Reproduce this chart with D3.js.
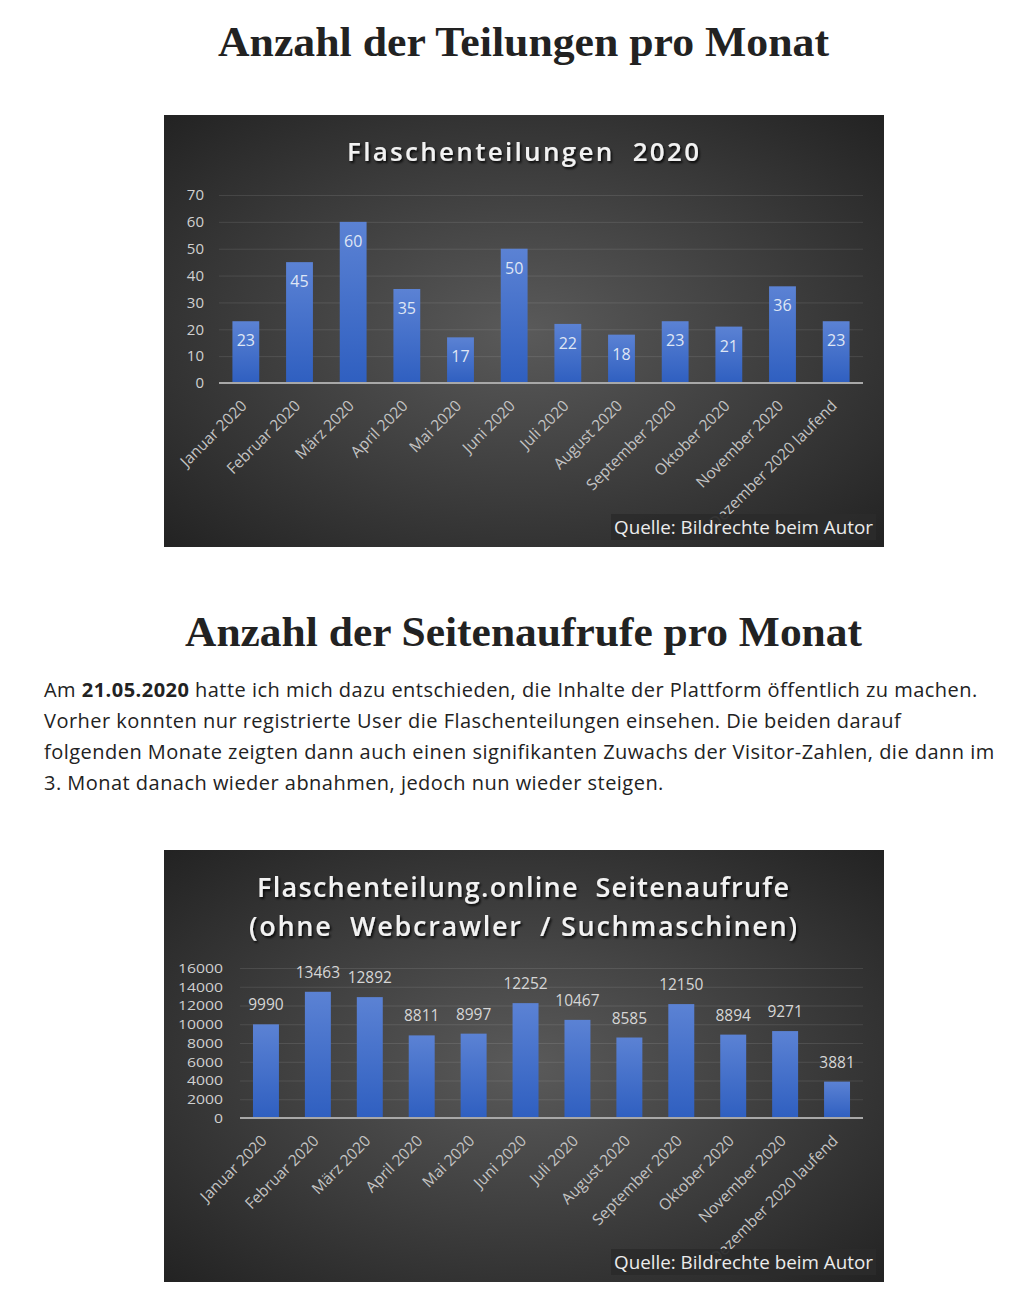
<!DOCTYPE html>
<html><head><meta charset="utf-8">
<script src="https://cdn.jsdelivr.net/npm/d3@7/dist/d3.min.js"></script>
<style>
html,body{margin:0;padding:0;background:#fff;}
svg{display:block;}
</style></head>
<body>
<svg id="page" width="1030" height="1309"></svg>
<script>
// ---- data ----
const months = ["Januar 2020","Februar 2020","März 2020","April 2020","Mai 2020","Juni 2020","Juli 2020","August 2020","September 2020","Oktober 2020","November 2020","Dezember 2020 laufend"];
const shares = [23,45,60,35,17,50,22,18,23,21,36,23];
const views = [9990,13463,12892,8811,8997,12252,10467,8585,12150,8894,9271,3881];
const sharesTicks = [0,10,20,30,40,50,60,70];
const viewsTicks = [0,2000,4000,6000,8000,10000,12000,14000,16000];
const heading1 = "Anzahl der Teilungen pro Monat";
const heading2 = "Anzahl der Seitenaufrufe pro Monat";
const chart1Title = ["Flaschenteilungen  2020"];
const chart2Title = ["Flaschenteilung.online  Seitenaufrufe","(ohne  Webcrawler  / Suchmaschinen)"];
const sourceText = "Quelle: Bildrechte beim Autor";
const paragraph = [
  [["Am ",false],["21.05.2020",true],[" hatte ich mich dazu entschieden, die Inhalte der Plattform öffentlich zu machen.",false]],
  [["Vorher konnten nur registrierte User die Flaschenteilungen einsehen. Die beiden darauf",false]],
  [["folgenden Monate zeigten dann auch einen signifikanten Zuwachs der Visitor-Zahlen, die dann im",false]],
  [["3. Monat danach wieder abnahmen, jedoch nun wieder steigen.",false]]
];

const svg = d3.select("#page");
const defs = svg.append("defs");
const rg = defs.append("radialGradient").attr("id","bg").attr("cx","50%").attr("cy","50%").attr("r","70%");
rg.append("stop").attr("offset","0%").attr("stop-color","#5a5a5a");
rg.append("stop").attr("offset","100%").attr("stop-color","#232323");
const bg = defs.append("linearGradient").attr("id","bar").attr("x1",0).attr("y1",0).attr("x2",0).attr("y2",1);
bg.append("stop").attr("offset","0%").attr("stop-color","#5b82d4");
bg.append("stop").attr("offset","100%").attr("stop-color","#2f5fc0");
const sh = defs.append("filter").attr("id","shadow").attr("x","-10%").attr("y","-30%").attr("width","120%").attr("height","160%");
sh.append("feDropShadow").attr("dx",1.5).attr("dy",2).attr("stdDeviation",1.2).attr("flood-color","#000").attr("flood-opacity",0.85);

// headings
function heading(text, y, x1, x2){
  svg.append("text").attr("x",(x1+x2)/2).attr("y",y).attr("text-anchor","middle")
    .attr("font-family","Liberation Serif, serif").attr("font-weight","bold").attr("font-size",43)
    .attr("fill","#222").attr("textLength",x2-x1).attr("lengthAdjust","spacingAndGlyphs").text(text);
}
heading(heading1, 56, 218, 829);
heading(heading2, 646, 185, 862);

// paragraph
paragraph.forEach((line,i)=>{
  const t = svg.append("text").attr("x",44).attr("y",697+i*31)
    .attr("font-family","Open Sans, sans-serif").attr("font-size",20).attr("letter-spacing",0.47).attr("fill","#222");
  line.forEach(([s,b])=>{ t.append("tspan").attr("font-weight",b?"bold":"normal").text(s); });
});

function chart(cfg){
  const g = svg.append("g");
  g.append("rect").attr("x",cfg.x0).attr("y",cfg.y0).attr("width",720).attr("height",432).attr("fill","url(#bg)");
  // title
  cfg.title.forEach((t,i)=>{
    g.append("text").attr("x",cfg.titleX).attr("y",cfg.titleY+i*cfg.titleStep).attr("text-anchor","middle")
      .style("white-space","pre")
      .attr("font-family","Open Sans, sans-serif").attr("font-weight",600).attr("font-size",cfg.titleSize)
      .attr("fill","#f2f2f2").attr("filter","url(#shadow)")
      .attr("textLength",cfg.titleW[i]).attr("lengthAdjust","spacing").text(t);
  });
  const x = d3.scaleBand().domain(months).range([cfg.left,cfg.right]).paddingInner(0.5).paddingOuter(0.25);
  const y = d3.scaleLinear().domain(cfg.domain).range([cfg.bottom,cfg.top]);
  // grid
  const yAxis = d3.axisLeft(y).tickValues(cfg.ticks).tickSize(-(cfg.right-cfg.left)).tickPadding(cfg.tickPad).tickFormat(d3.format("d"));
  const ya = g.append("g").attr("transform",`translate(${cfg.left},0)`).call(yAxis);
  ya.select(".domain").remove();
  ya.selectAll(".tick line").attr("stroke","#ffffff").attr("stroke-opacity",0.1).attr("stroke-width",1);
  const yt = ya.selectAll(".tick text").attr("fill","#d0d0d0").attr("font-family","Open Sans, sans-serif").attr("font-size",cfg.ytSize);
  if (cfg.ytDigitW) yt.attr("textLength",d=>String(d).length*cfg.ytDigitW).attr("lengthAdjust","spacingAndGlyphs");
  // bars
  g.selectAll("rect.b").data(cfg.values).join("rect").attr("class","b")
    .attr("x",(d,i)=>x(months[i])).attr("width",x.bandwidth())
    .attr("y",d=>y(d)).attr("height",d=>y(0)-y(d)).attr("fill","url(#bar)");
  // value labels
  g.selectAll("text.v").data(cfg.values).join("text").attr("class","v")
    .attr("x",(d,i)=>x(months[i])+x.bandwidth()/2)
    .attr("y",d=>y(d)+cfg.labelDy).attr("text-anchor","middle")
    .attr("font-family","Open Sans, sans-serif").attr("font-size",cfg.vSize).attr("fill",cfg.vColor).text(d=>d);
  // x axis
  const xa = g.append("g").attr("transform",`translate(0,${cfg.bottom})`).call(d3.axisBottom(x).tickSize(0).tickPadding(0));
  xa.select(".domain").attr("stroke","#a8a8a8").attr("stroke-width",2).attr("d",`M${cfg.left},0H${cfg.right}`);
  xa.selectAll(".tick text").attr("fill","#c4c4c4").attr("font-family","Open Sans, sans-serif").attr("font-size",15.5)
    .attr("text-anchor","end").attr("dy","0.35em")
    .attr("transform","translate(-2,20) rotate(-45)");
  // source box
  g.append("rect").attr("x",cfg.srcX).attr("y",cfg.srcY).attr("width",265).attr("height",26)
    .attr("fill","#2b2b2b").attr("fill-opacity",0.93);
  g.append("text").attr("x",cfg.srcX+3).attr("y",cfg.srcY+20).attr("font-family","Open Sans, sans-serif")
    .attr("font-size",19).attr("fill","#ececec").attr("textLength",259).attr("lengthAdjust","spacingAndGlyphs").text(sourceText);
}

chart({x0:164,y0:115,title:chart1Title,titleX:523,titleY:161,titleStep:0,titleSize:26,titleW:[352],
  left:219,right:863,top:195,bottom:383,domain:[0,70],ticks:sharesTicks,tickPad:15,ytSize:15,
  values:shares,labelDy:25,vSize:16,vColor:"#dfe6f5",srcX:611,srcY:514});
chart({x0:164,y0:850,title:chart2Title,titleX:523,titleY:897,titleStep:39,titleSize:27,titleW:[532,548],
  left:240,right:863,top:968,bottom:1118,domain:[0,16000],ticks:viewsTicks,tickPad:17,ytSize:13.4,ytDigitW:9,
  values:views,labelDy:-14,vSize:15.5,vColor:"#d6d6d6",srcX:611,srcY:1249});
</script>
</body></html>
